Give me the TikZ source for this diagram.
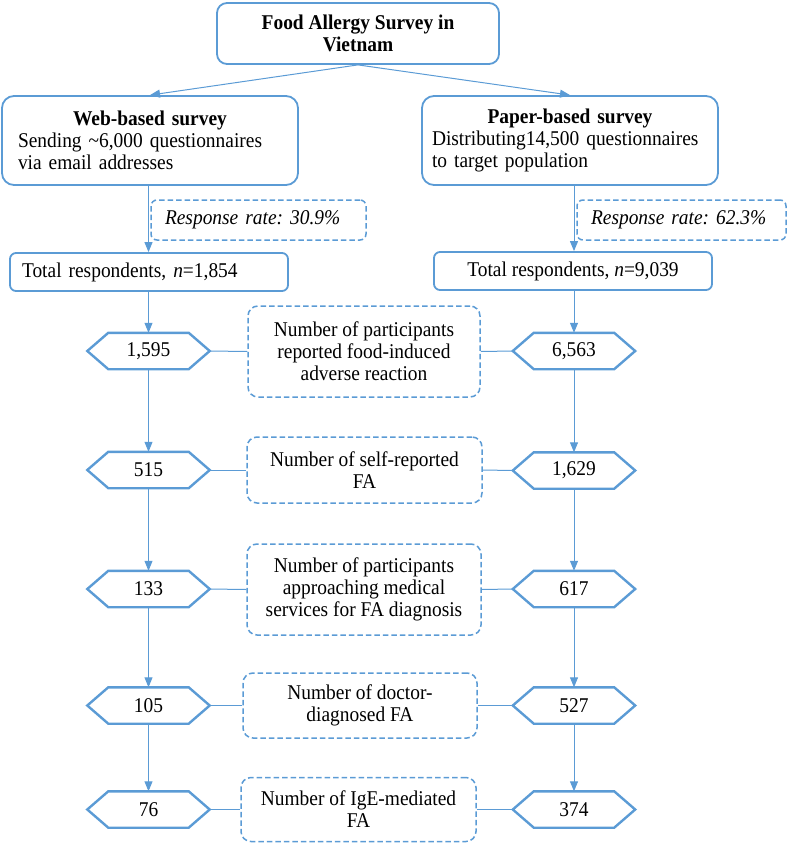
\documentclass[tikz,border=0pt]{standalone}
\usepackage{fontspec}
\setmainfont{Liberation Serif}[FakeStretch=0.925]
\usetikzlibrary{arrows.meta}
\definecolor{bl}{HTML}{5B9BD5}
\frenchspacing
\begin{document}
\begin{tikzpicture}[x=1pt,y=-1pt,
  font=\fontsize{21}{22}\selectfont,
  box/.style={draw=bl, line width=1.8pt, rounded corners=9pt, align=center, inner sep=0pt},
  dbox/.style={draw=bl, line width=1.5pt, dash pattern=on 5.5pt off 3pt, rounded corners=10pt, align=center, inner sep=0pt},
  hexn/.style={minimum width=122pt, minimum height=36pt, inner sep=0pt},
  hexline/.style={draw=bl, line width=2.4pt, line join=miter},
  conn/.style={draw=bl, line width=1pt},
  arr/.style={conn, -{Triangle[length=10pt,width=8pt]}}]
\useasboundingbox (0,0) rectangle (789,843);

% top boxes
\node[box, rounded corners=10pt, minimum width=282pt, minimum height=61pt] (title) at (358,33.5)
  {\textbf{Food Allergy Survey in}\\\textbf{Vietnam}};
\node[box, rounded corners=12pt, minimum width=296pt, minimum height=89pt, text width=264pt, align=left] (web) at (150,140.5)
  {\hspace*{\fill}\textbf{Web-based survey}\hspace*{\fill}\null\\Sending \textasciitilde6,000 questionnaires\\via email addresses};
\node[box, rounded corners=12pt, minimum width=296pt, minimum height=89pt, text width=276pt, align=left] (paper) at (570,140.5)
  {\hyphenpenalty=10000\hspace*{\fill}\textbf{Paper-based survey}\hspace*{\fill}\null\\Distributing14,500 questionnaires\\to target population};

% response rates
\node[dbox, rounded corners=6pt, minimum width=215pt, minimum height=40pt, text width=187pt, align=left] (rr1) at (258.5,220)
  {\textit{Response rate: 30.9\%}};
\node[dbox, rounded corners=6pt, minimum width=209pt, minimum height=40pt, text width=181pt, align=left] (rr2) at (681.5,220)
  {\textit{Response rate: 62.3\%}};

% totals
\node[box, rounded corners=6pt, minimum width=278pt, minimum height=38pt, text width=254pt, align=left] (tot1) at (149,272)
  {Total respondents, \textit{n}=1,854};
\node[box, rounded corners=6pt, minimum width=278pt, minimum height=38pt] (tot2) at (573,271)
  {Total respondents, \textit{n}=9,039};

% hexagon nodes
\node[hexn] (a1) at (148.5,351) {1,595};
\node[hexn] (a2) at (148.5,470) {515};
\node[hexn] (a3) at (148.5,589) {133};
\node[hexn] (a4) at (148.5,705.5) {105};
\node[hexn] (a5) at (148.5,809.5) {76};
\node[hexn] (b1) at (574,351) {6,563};
\node[hexn] (b2) at (574,470.5) {1,629};
\node[hexn] (b3) at (574,589) {617};
\node[hexn] (b4) at (574,705.5) {527};
\node[hexn] (b5) at (574,809.5) {374};
\foreach \n in {a1,a2,a3,a4,a5,b1,b2,b3,b4,b5}{
  \draw[hexline] (\n.west) -- ([xshift=21pt]\n.north west) -- ([xshift=-21pt]\n.north east)
    -- (\n.east) -- ([xshift=-21pt]\n.south east) -- ([xshift=21pt]\n.south west) -- cycle;
}

% dashed description boxes
\node[dbox, minimum width=232pt, minimum height=91pt] (d1) at (364,351.5)
  {Number of participants\\reported food-induced\\adverse reaction};
\node[dbox, minimum width=235pt, minimum height=66pt] (d2) at (364.5,470)
  {Number of self-reported\\FA};
\node[dbox, minimum width=234pt, minimum height=91pt] (d3) at (364,589.5)
  {Number of participants\\approaching medical\\services for FA diagnosis};
\node[dbox, minimum width=234pt, minimum height=65pt] (d4) at (360,705.5)
  {Number of doctor-\\diagnosed FA};
\node[dbox, minimum width=235pt, minimum height=64pt] (d5) at (358.5,809.5)
  {Number of IgE-mediated\\FA};

% connectors
\draw[arr] (title.south) -- (web.north);
\draw[arr] (title.south) -- (paper.north);
\draw[arr] (web.south -| a1) -- (tot1.north -| a1);
\draw[arr] (paper.south -| b1) -- (tot2.north -| b1);
\draw[arr] (tot1.south -| a1) -- (a1.north);
\draw[arr] (tot2.south -| b1) -- (b1.north);
\draw[arr] (a1.south) -- (a2.north);
\draw[arr] (a2.south) -- (a3.north);
\draw[arr] (a3.south) -- (a4.north);
\draw[arr] (a4.south) -- (a5.north);
\draw[arr] (b1.south) -- (b2.north);
\draw[arr] (b2.south) -- (b3.north);
\draw[arr] (b3.south) -- (b4.north);
\draw[arr] (b4.south) -- (b5.north);
\foreach \i in {1,...,5}{
  \draw[conn] (a\i.east) -- (d\i.west);
  \draw[conn] (d\i.east) -- (b\i.west);
}
\end{tikzpicture}
\end{document}
